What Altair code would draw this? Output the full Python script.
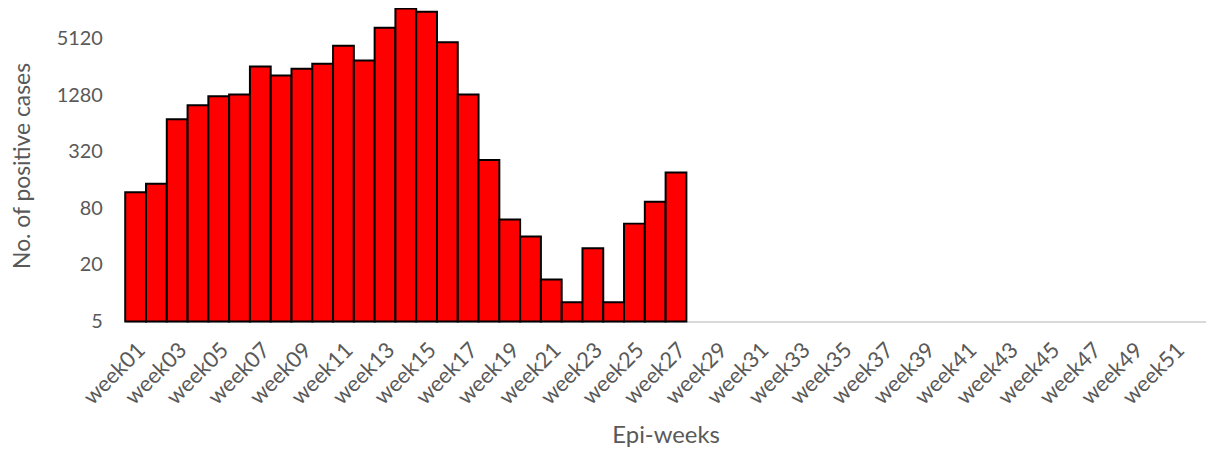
import altair as alt
import pandas as pd

weeks = [f"week{i:02d}" for i in range(1, 53)]
cases = [119, 146, 711, 1005, 1250, 1305, 2600, 2074, 2455, 2780, 4320, 3010,
         6700, 10770, 9920, 4710, 1305, 262, 61, 40, 14, 8, 30, 8, 55, 94, 193]
y_ticks = [5, 20, 80, 320, 1280, 5120]
x_label_weeks = weeks[::2]
y_floor = 5

df = pd.DataFrame({"week": weeks[:len(cases)], "cases": cases})

font = "Lato"
grey = "#595959"

chart = alt.Chart(df).mark_bar(
    color="#FF0000", stroke="black", strokeWidth=2, clip=False
).encode(
    x=alt.X("week:N",
            scale=alt.Scale(domain=weeks, paddingInner=0, paddingOuter=0),
            axis=alt.Axis(values=x_label_weeks, labelAngle=-45, labelAlign="right",
                          labelBaseline="middle", labelPadding=25, labelOffset=6,
                          ticks=False, domainColor="#d9d9d9", domainWidth=2,
                          labelFont=font, labelFontSize=22, labelColor=grey,
                          title="Epi-weeks", titleFont=font, titleFontSize=24,
                          titleColor=grey, titleFontWeight="normal",
                          titleBaseline="alphabetic", titleY=122,
                          labelOverlap=False, labelBound=False, grid=False)),
    y=alt.Y("cases:Q",
            scale=alt.Scale(type="log", base=4, domain=[5, 10500], nice=False),
            axis=alt.Axis(values=y_ticks, format="d", ticks=False, domain=False,
                          grid=False, labelPadding=23, labelFont=font,
                          labelFontSize=20, labelColor=grey,
                          title="No. of positive cases", titleFont=font,
                          titleFontSize=23, titleColor=grey,
                          titleFontWeight="normal", titleAngle=-90,
                          titleBaseline="alphabetic", titleX=-96)),
    y2=alt.datum(y_floor),
).properties(
    width=1088, height=314,
    autosize=alt.AutoSizeParams(type="none"),
    padding={"left": 118, "top": 0, "right": 0, "bottom": 131},
).configure_view(stroke=None)

chart.save("out.html", embed_options={"renderer": "svg", "actions": False})
